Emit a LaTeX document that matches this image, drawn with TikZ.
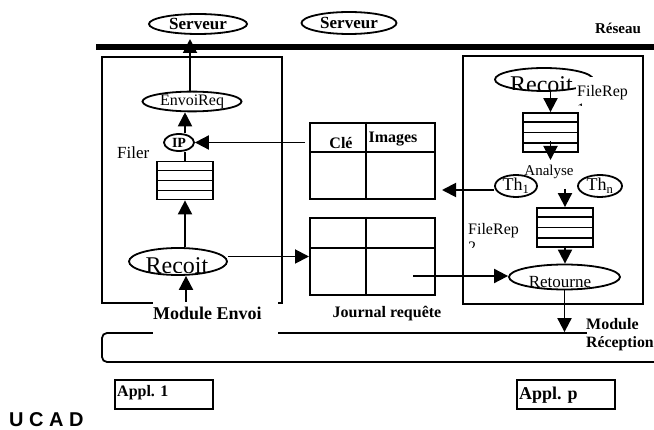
\documentclass[tikz,border=0pt]{standalone}
\usepackage{fontspec}
\setmainfont{Liberation Serif}
\newfontfamily\ucadfont{Liberation Sans}
\usetikzlibrary{shapes.geometric,arrows.meta,calc}
\newcommand\fsz[2]{\fontsize{#1}{#2}\selectfont}
\begin{document}
\begin{tikzpicture}[x=1pt,y=-1pt,
  modbox/.style={draw, line width=2pt, inner sep=0pt},
  oval/.style={ellipse, draw, line width=1.8pt, inner sep=0pt},
  arr/.style={line width=1.9pt, -{Triangle[length=14pt,width=14pt]}},
  plain/.style={inner sep=0pt},
  whitebg/.style={fill=white, inner sep=0pt},
  queue/.style={draw, line width=1.8pt, minimum width=56pt, minimum height=38pt, inner sep=0pt},
  tablebox/.style={draw, line width=2pt, minimum width=125pt, minimum height=76pt, inner sep=0pt},
  rowline/.style={line width=1.8pt},
  bold16/.style={plain, font=\fsz{16}{18}\bfseries},
]
\useasboundingbox (0,0) rectangle (654,430);

% network bar and servers
\coordinate (netL) at (96,47);
\coordinate (netR) at (654,47);
\draw[line width=5.5pt] (netL) -- (netR);
\node[oval, minimum width=98pt, minimum height=20pt, font=\fsz{17}{20}\bfseries] (srv1) at (198,24) {Serveur};
\node[oval, minimum width=95pt, minimum height=22pt, font=\fsz{17}{20}\bfseries] (srv2) at (349,23) {Serveur};
\node[plain, font=\fsz{15}{18}\bfseries, anchor=base] (reseau) at (618,34) {Réseau};

% module frames and application bus
\node[modbox, minimum width=180pt, minimum height=246pt] (modE) at (192,180) {};
\node[modbox, minimum width=180pt, minimum height=248pt] (modR) at (553,180) {};
\node[draw, rounded corners=5pt, line width=1.8pt, minimum width=588pt, minimum height=29pt, inner sep=0pt] (bus) at (396,347.5) {};

% sending module
\node[oval, minimum width=99pt, minimum height=19pt, font=\fsz{16}{18}] (envoireq) at (192,101.5) {EnvoiReq};
\node[oval, minimum width=30pt, minimum height=17pt, font=\fsz{14}{16}\bfseries] (ip) at (179,142.5) {IP};
\node[plain, font=\fsz{17}{19}, anchor=base west] (filer) at (117,159) {Filer};
\node[queue] (qf) at (185,180.5) {};
\node[oval, minimum width=98pt, minimum height=27pt] (rl) at (178,261.5) {};
\begin{scope}
  \clip (120,240) rectangle (236,273);
  \node[plain, font=\fsz{24}{26}, anchor=base] (rltxt) at (177,274) {Recoit};
\end{scope}

% tables
\node[tablebox] (t1) at (372.5,161) {};
\node[tablebox, minimum height=77pt] (t2) at (372.5,256.5) {};
\draw[rowline] ($(t1.north west)!0.448!(t1.north east)$) -- ($(t1.south west)!0.448!(t1.south east)$);
\draw[rowline] ($(t1.north west)!0.38!(t1.south west)$) -- ($(t1.north east)!0.38!(t1.south east)$);
\draw[rowline] ($(t2.north west)!0.448!(t2.north east)$) -- ($(t2.south west)!0.448!(t2.south east)$);
\draw[rowline] ($(t2.north west)!0.39!(t2.south west)$) -- ($(t2.north east)!0.39!(t2.south east)$);
\node[bold16, anchor=base] (cle) at (341,149) {Clé};
\node[bold16, anchor=base] (images) at (393,143) {Images};
\node[bold16, anchor=base] (journal) at (387,318) {Journal requête};

% receiving module
\node[oval, minimum width=98pt, minimum height=23pt] (rr) at (544,79.5) {};
\begin{scope}
  \clip (490,60) rectangle (600,90);
  \node[plain, font=\fsz{24}{26}, anchor=base] (rrtxt) at (541.5,93) {Recoit};
\end{scope}
\node[whitebg, minimum width=56pt, minimum height=30pt] (fr1bg) at (604,92) {};
\node[plain, font=\fsz{16}{18}, anchor=base west] (fr1) at (577,97) {FileRep};
\begin{scope}
  \clip (570,98) rectangle (634,106);
  \node[plain, font=\fsz{16}{18}, anchor=base west] (fr1n) at (577,115) {1};
\end{scope}
\node[queue, minimum width=55pt, minimum height=39pt] (q1) at (550.5,132.5) {};
\node[plain, font=\fsz{15}{17}, anchor=base] (analyse) at (549,176) {Analyse};
\node[oval, minimum width=42pt, minimum height=22pt, font=\fsz{18}{20}] (th1) at (516,186) {Th\textsubscript{1}};
\node[oval, minimum width=44pt, minimum height=22pt, font=\fsz{18}{20}] (thn) at (600,186) {Th\textsubscript{n}};
\node[queue, minimum width=56pt, minimum height=39pt] (q2) at (565,227.5) {};
\node[plain, font=\fsz{16}{18}, anchor=base west] (fr2) at (468,235) {FileRep};
\begin{scope}
  \clip (462,236) rectangle (520,248);
  \node[plain, font=\fsz{16}{18}, anchor=base west] (fr2n) at (468,253) {2};
\end{scope}
\node[oval, minimum width=111pt, minimum height=25pt] (ret) at (564.5,277) {};
\node[plain, font=\fsz{17}{19}, anchor=base] (rettxt) at (560,288) {Retourne};

% queue rows
\foreach \q in {qf,q1,q2}
  \foreach \i in {1,2,3}
    \draw[rowline] ($(\q.north west)!\i/4!(\q.south west)$) -- ($(\q.north east)!\i/4!(\q.south east)$);

% module captions
\node[whitebg, minimum width=125pt, minimum height=36pt] (lblEbg) at (215.5,319) {};
\node[plain, font=\fsz{18}{20}\bfseries, anchor=base west] (lblE) at (153,320) {Module Envoi};
\node[whitebg, minimum width=70pt, minimum height=38pt] (lblRbg) at (622,333) {};
\node[plain, font=\fsz{16}{19}\bfseries, anchor=base west] (lblR1) at (586,330) {Module};
\node[plain, font=\fsz{15.8}{19}\bfseries, anchor=base west] (lblR2) at (586,348) {Réception};

% applications
\node[modbox, line width=1.8pt, minimum width=98pt, minimum height=29pt] (app1) at (164,394.5) {};
\node[plain, font=\fsz{16}{18}\bfseries, anchor=base west] (app1txt) at (117,397) {Appl. 1};
\node[modbox, line width=1.8pt, minimum width=98pt, minimum height=29pt] (appp) at (566,394.5) {};
\node[plain, font=\fsz{18}{20}\bfseries, anchor=base west] (appptxt) at (519,400) {Appl. p};
\node[plain, font=\ucadfont\fsz{20}{22}\bfseries, anchor=base west] (ucad) at (9,427) {U C A D};

% connectors, sending side
\coordinate (nettip) at (190,39);
\coordinate (ipsrc) at (305,142.5);
\coordinate (esrc) at (186,302);
\draw[arr] (envoireq.north -| nettip) -- (nettip);
\draw[arr] (qf.north |- ip.north) -- (qf.north |- envoireq.south);
\draw[line width=1.9pt] (qf.north) -- (qf.north |- ip.south);
\draw[arr] (ipsrc) -- (ip.east);
\draw[arr] (qf.south |- rl.north) -- (qf.south);
\draw[arr] (esrc) -- (esrc |- rl.south);
\draw[arr] (t2.west -| rl.east) -- (t2.west);

% connectors, receiving side
\coordinate (a1) at (550.5,160);
\coordinate (a2) at (565,189);
\coordinate (t1in) at (442,190);
\coordinate (jsrc) at (413,276);
\draw[arr] (q1.north |- rr.south) -- (q1.north);
\draw[arr] ([yshift=12pt]q1.south) -- (a1);
\draw[arr] (a2) -- (q2.north);
\draw[arr] (q2.south) -- (q2.south |- ret.north);
\draw[arr] (ret.south) -- (ret.south |- bus.north);
\draw[arr] ([yshift=-4pt]th1.west) -- (t1in);
\draw[arr] (jsrc) -- (jsrc -| ret.west);
\end{tikzpicture}
\end{document}
